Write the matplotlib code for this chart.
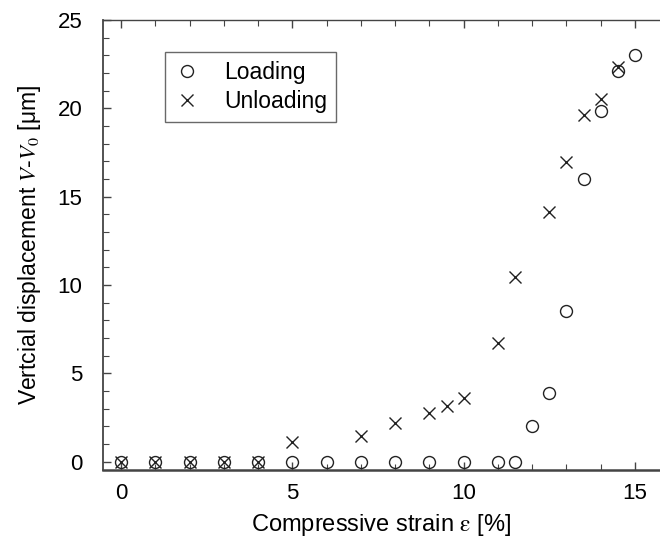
import matplotlib
matplotlib.use('Agg')
import matplotlib.pyplot as plt
from matplotlib.ticker import MultipleLocator

plt.rcParams['font.family'] = ['Liberation Sans', 'DejaVu Sans']
plt.rcParams['mathtext.fontset'] = 'stix'

# loading branch
load_strain = [0, 1, 2, 3, 4, 5, 6, 7, 8, 9, 10, 11, 11.5, 12, 12.5, 13, 13.5, 14, 14.5, 15]
load_disp = [0, 0, 0, 0, 0, 0, 0, 0, 0, 0, 0, 0, 0, 2.0, 3.9, 8.5, 16.0, 19.85, 22.1, 23.0]

# unloading branch
unload_strain = [0, 1, 2, 3, 4, 5, 7, 8, 9, 9.5, 10, 11, 11.5, 12.5, 13, 13.5, 14, 14.5]
unload_disp = [0, 0, 0, 0, 0, 1.1, 1.47, 2.17, 2.74, 3.15, 3.62, 6.7, 10.43, 14.1, 16.95, 19.62, 20.53, 22.36]

fig = plt.figure(figsize=(6.6, 5.4), dpi=100)
ax = fig.add_axes([0.156, 0.1296, 0.844, 0.8334])

ax.plot(load_strain, load_disp, 'o', mfc='none', mec='#222222', ms=8.6, mew=1.0,
        label='Loading', clip_on=False)
ax.plot(unload_strain, unload_disp, 'x', color='#222222', ms=8.6, mew=1.0,
        label='Unloading', clip_on=False)

ax.set_xlim(-0.53, 15.73)
ax.set_ylim(-0.48, 25)
ax.xaxis.set_major_locator(MultipleLocator(5))
ax.xaxis.set_minor_locator(MultipleLocator(1))
ax.yaxis.set_major_locator(MultipleLocator(5))
ax.yaxis.set_minor_locator(MultipleLocator(1))

ax.spines['right'].set_visible(False)
for s in ['left', 'bottom', 'top']:
    ax.spines[s].set_color('#444444')
ax.spines['bottom'].set_linewidth(1.8)
ax.spines['left'].set_linewidth(1.3)
ax.spines['top'].set_linewidth(1.0)

ax.tick_params(which='both', direction='in', top=True, right=False, color='#444444')
ax.tick_params(which='major', length=6, width=1.0, labelsize=16)
ax.tick_params(which='minor', length=4, width=0.8)
ax.tick_params(axis='x', which='major', pad=9)
ax.tick_params(axis='y', which='major', pad=15)

ax.set_xlabel(r'Compressive strain $\mathrm{\varepsilon}$ [%]', fontsize=17, labelpad=6)
ax.set_ylabel(r'Vertcial displacement $V$-$V_0$ [μm]', fontsize=16.5, labelpad=10)

leg = ax.legend(loc='upper left', bbox_to_anchor=(0.09, 0.955), fontsize=16.5,
                frameon=True, fancybox=False, edgecolor='#444444',
                handletextpad=1.0, borderpad=0.4, labelspacing=0.25,
                handlelength=1.2)
leg.get_frame().set_linewidth(1.0)

fig.savefig('out.png', dpi=100)
